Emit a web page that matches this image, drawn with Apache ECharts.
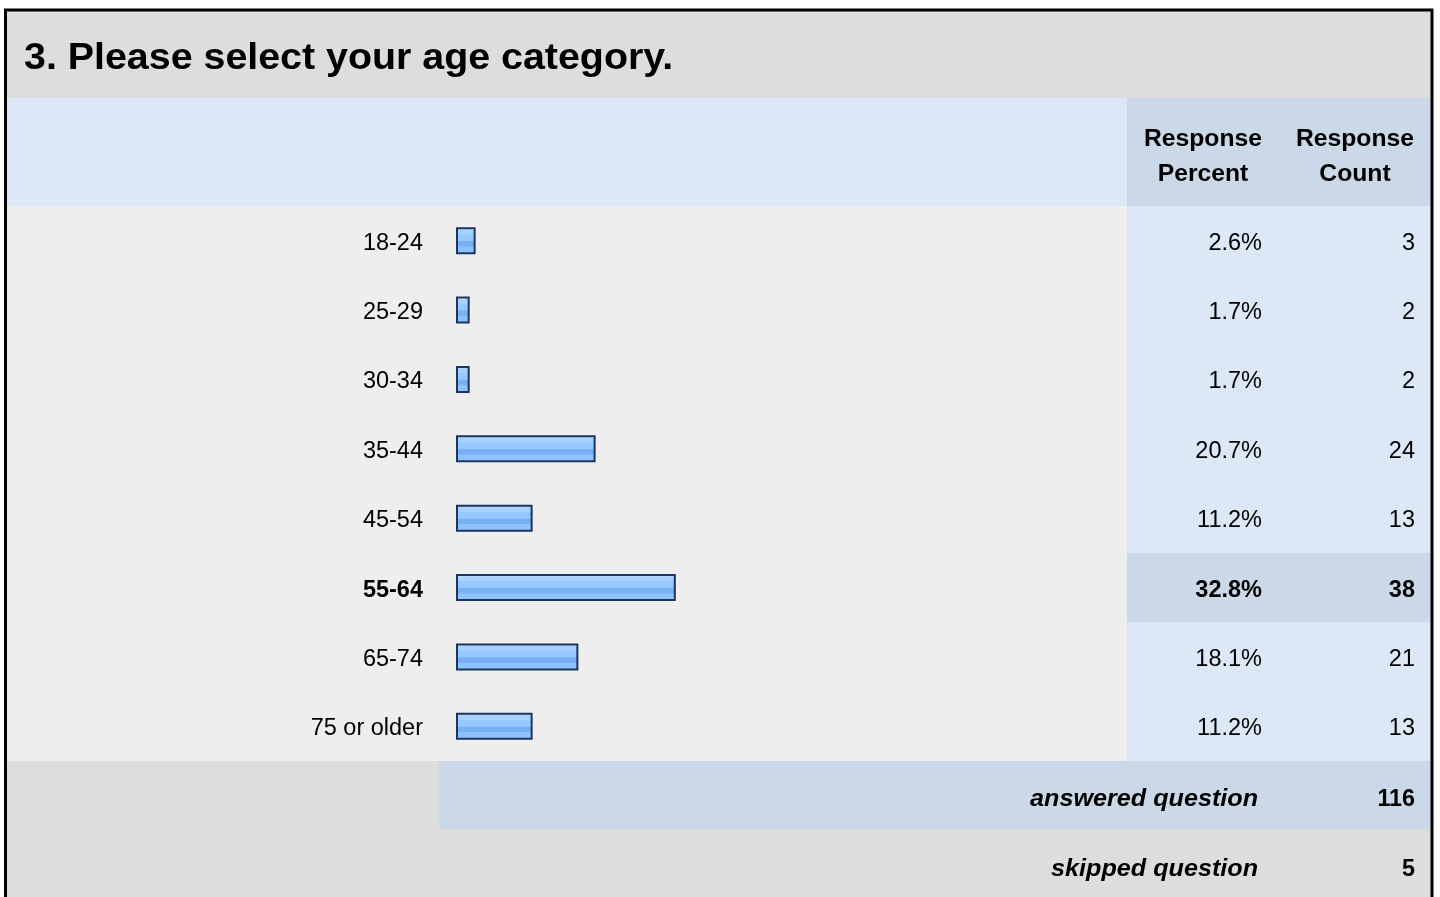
<!DOCTYPE html>
<html>
<head>
<meta charset="utf-8">
<script src="https://cdn.jsdelivr.net/npm/echarts@6/dist/echarts.min.js"></script>
<style>
html,body{margin:0;padding:0;background:#fff;}
#chart{width:1440px;height:897px;}
</style>
</head>
<body>
<div id="chart"></div>
<script>
// ---- data ----
const titleText = '3. Please select your age category.';
const categories = ['18-24', '25-29', '30-34', '35-44', '45-54', '55-64', '65-74', '75 or older'];
const percents = [2.6, 1.7, 1.7, 20.7, 11.2, 32.8, 18.1, 11.2];
const counts = [3, 2, 2, 24, 13, 38, 21, 13];
const headerLabels = ['Response\nPercent', 'Response\nCount'];
const footerLabels = ['answered question', 'skipped question'];
const footerValues = [116, 5];

// ---- layout ----
const FONT = '"Liberation Sans", Arial, sans-serif';
const FS = 23.5;
const pxPerPct = 6.628, axisMin = -0.362;
const gridLeft = 456, gridTop = 206, rowH = 69.375;
const gridW = pxPerPct * (100 - axisMin);
const gridH = rowH * categories.length;
const colX = 1127, rightX = 1431, leftX = 7;
const pctRight = 1262, cntRight = 1415;
const hi = percents.indexOf(Math.max.apply(null, percents));
const gridBottomY = gridTop + gridH;

const chart = echarts.init(document.getElementById('chart'), null, {renderer: 'canvas'});

const bg = [];
function rect(x, y, w, h, fill, z) {
  bg.push({type: 'rect', z: z, silent: true, shape: {x: x, y: y, width: w, height: h}, style: {fill: fill}});
}
rect(leftX, 11, rightX - leftX, 87, '#dddddd', -3);
rect(leftX, 98, colX - leftX, gridTop - 98, '#dce8f5', -3);
rect(colX, 98, rightX - colX, gridTop - 98, '#cbd8e7', -3);
rect(leftX, gridTop, colX - leftX, gridH, '#eeeeee', -3);
rect(colX, gridTop, rightX - colX, gridH, '#dce8f5', -3);
rect(colX, gridTop + hi * rowH, rightX - colX, rowH, '#cbd8e7', -2);
rect(leftX, gridBottomY, rightX - leftX, 897 - gridBottomY, '#dddddd', -3);
rect(439, gridBottomY, rightX - 439, 68, '#cbd8e7', -2);

const texts = [];
function txt(x, y, s, font, align, sx, lh) {
  const st = {text: s, font: font, fill: '#000', textAlign: align, textVerticalAlign: 'middle'};
  if (lh) st.lineHeight = lh;
  texts.push({type: 'text', z: 5, silent: true, x: x, y: y, scaleX: sx, scaleY: 1, style: st});
}
txt(24, 59, titleText, 'bold 37px ' + FONT, 'left', 1.064);
txt(1203, 157, headerLabels[0], 'bold 23.3px ' + FONT, 'center', 1.06, 34.6);
txt(1355, 157, headerLabels[1], 'bold 23.3px ' + FONT, 'center', 1.06, 34.6);
footerLabels.forEach(function (lab, i) {
  const cy = gridBottomY + 39 + i * 70;
  txt(1258, cy, lab, 'italic bold 23.3px ' + FONT, 'right', 1.08);
  txt(cntRight, cy, String(footerValues[i]), 'bold 23.3px ' + FONT, 'right', 1);
});
const border = {type: 'rect', z: 10, silent: true, shape: {x: 5.5, y: 10, width: 1426.5, height: 900}, style: {fill: 'none', stroke: '#000', lineWidth: 3}};

function richFmt(arr, fmt) {
  return function (value, index) {
    const s = fmt(arr[index]);
    return index === hi ? '{b|' + s + '}' : '{n|' + s + '}';
  };
}
const rich = {
  n: {fontFamily: FONT, fontSize: FS, color: '#000', padding: [5, 0, 0, 0]},
  b: {fontFamily: FONT, fontSize: FS, color: '#000', fontWeight: 'bold', padding: [6, 0, 0, 0]}
};
const pctFmt = function (p) { return p.toFixed(1) + '%'; };
const strFmt = function (c) { return String(c); };
const hiddenAxis = {axisLine: {show: false}, axisTick: {show: false}, splitLine: {show: false}};

const option = {
  animation: false,
  backgroundColor: '#ffffff',
  graphic: {elements: bg.concat(texts, [border])},
  grid: {left: gridLeft, top: gridTop, width: gridW, height: gridH, containLabel: false},
  xAxis: {type: 'value', min: axisMin, max: 100, startValue: axisMin, show: false},
  yAxis: [
    Object.assign({type: 'category', data: categories, inverse: true, position: 'left',
      axisLabel: {margin: gridLeft - 423, align: 'right', formatter: richFmt(categories, strFmt), rich: rich}}, hiddenAxis),
    Object.assign({type: 'category', data: percents.map(pctFmt), inverse: true, position: 'right',
      axisLabel: {margin: pctRight - (gridLeft + gridW), align: 'right', formatter: richFmt(percents, pctFmt), rich: rich}}, hiddenAxis),
    Object.assign({type: 'category', data: counts.map(strFmt), inverse: true, position: 'right', offset: 0,
      axisLabel: {margin: cntRight - (gridLeft + gridW), align: 'right', formatter: richFmt(counts, strFmt), rich: rich}}, hiddenAxis)
  ],
  series: [{
    type: 'bar',
    yAxisIndex: 0,
    data: percents,
    barWidth: 27,
    z: 3,
    itemStyle: {
      borderColor: '#1c3560',
      borderWidth: 2,
      color: new echarts.graphic.LinearGradient(0, 0, 0, 1, [
        {offset: 0, color: '#c6e1ff'},
        {offset: 0.08, color: '#c6e1ff'},
        {offset: 0.1, color: '#a9d2ff'},
        {offset: 0.25, color: '#a9d2ff'},
        {offset: 0.28, color: '#97c8ff'},
        {offset: 0.5, color: '#97c8ff'},
        {offset: 0.53, color: '#78b0f4'},
        {offset: 0.7, color: '#78b0f4'},
        {offset: 0.73, color: '#8ec2ff'},
        {offset: 0.92, color: '#8ec2ff'},
        {offset: 0.95, color: '#a2cdff'},
        {offset: 1, color: '#a2cdff'}
      ])
    }
  }]
};
chart.setOption(option);
</script>
</body>
</html>
